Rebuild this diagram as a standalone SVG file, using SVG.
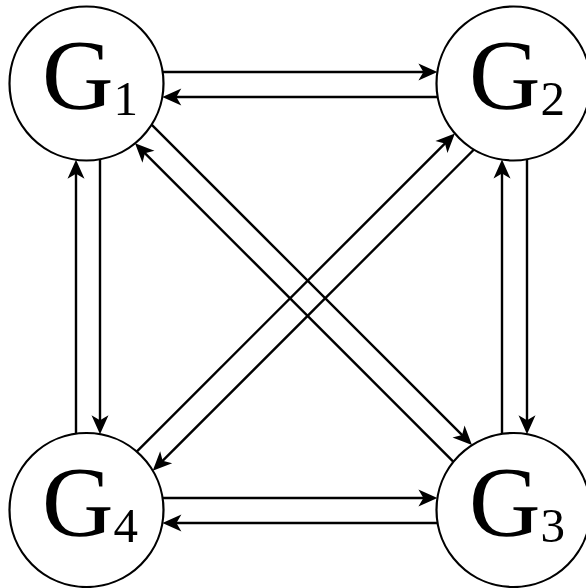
<svg xmlns="http://www.w3.org/2000/svg" width="586" height="588" viewBox="0 0 586 588">
  <style>
    .node circle { fill: #ffffff; stroke: #000000; stroke-width: 2.2; }
    .lbl { font-family: "Liberation Serif", "Times New Roman", serif; fill: #000000; }
    .big { font-size: 99px; }
    .sub { font-size: 49px; }
    .edge { fill: none; stroke: #000000; stroke-width: 2.4; marker-end: url(#arrow); }
  </style>
  <defs>
    <marker id="arrow" markerUnits="userSpaceOnUse" markerWidth="40" markerHeight="40" refX="0" refY="0" orient="auto" viewBox="-20 -20 40 40" overflow="visible">
      <path d="M10,0 L-9,-8.5 L-4,0 L-9,8.5 Z" fill="#000000"/>
    </marker>
  </defs>
  <rect width="586" height="588" fill="#ffffff"/>
  <g id="connectors">
    <path class="edge" d="M162.6,72 L427.4,72"/>
    <path class="edge" d="M437.7,97 L172.3,97"/>
    <path class="edge" d="M162.6,498 L427.4,498"/>
    <path class="edge" d="M437.6,523 L172.4,523"/>
    <path class="edge" d="M76,433.7 L76,169.8"/>
    <path class="edge" d="M100,159.3 L100,424.2"/>
    <path class="edge" d="M502,433.9 L502,169.6"/>
    <path class="edge" d="M527,159.3 L527,424.2"/>
    <path class="edge" d="M151.6,124.6 L464.9,437.9"/>
    <path class="edge" d="M453.5,461.8 L142.1,150.4"/>
    <path class="edge" d="M136.75,451.65 L447.8,140.6"/>
    <path class="edge" d="M474,149.5 L159.8,463.7"/>
  </g>
  <g id="G1" class="node">
    <circle cx="86.5" cy="83.5" r="77"/>
    <text class="lbl" x="42" y="108"><tspan class="big">G</tspan><tspan class="sub" y="115">1</tspan></text>
  </g>
  <g id="G2" class="node">
    <circle cx="513.5" cy="83.5" r="77"/>
    <text class="lbl" x="469" y="108"><tspan class="big">G</tspan><tspan class="sub" y="115">2</tspan></text>
  </g>
  <g id="G3" class="node">
    <circle cx="513.5" cy="510" r="77"/>
    <text class="lbl" x="469" y="535"><tspan class="big">G</tspan><tspan class="sub" y="542">3</tspan></text>
  </g>
  <g id="G4" class="node">
    <circle cx="86.5" cy="510" r="77"/>
    <text class="lbl" x="42" y="535"><tspan class="big">G</tspan><tspan class="sub" y="542">4</tspan></text>
  </g>
</svg>
